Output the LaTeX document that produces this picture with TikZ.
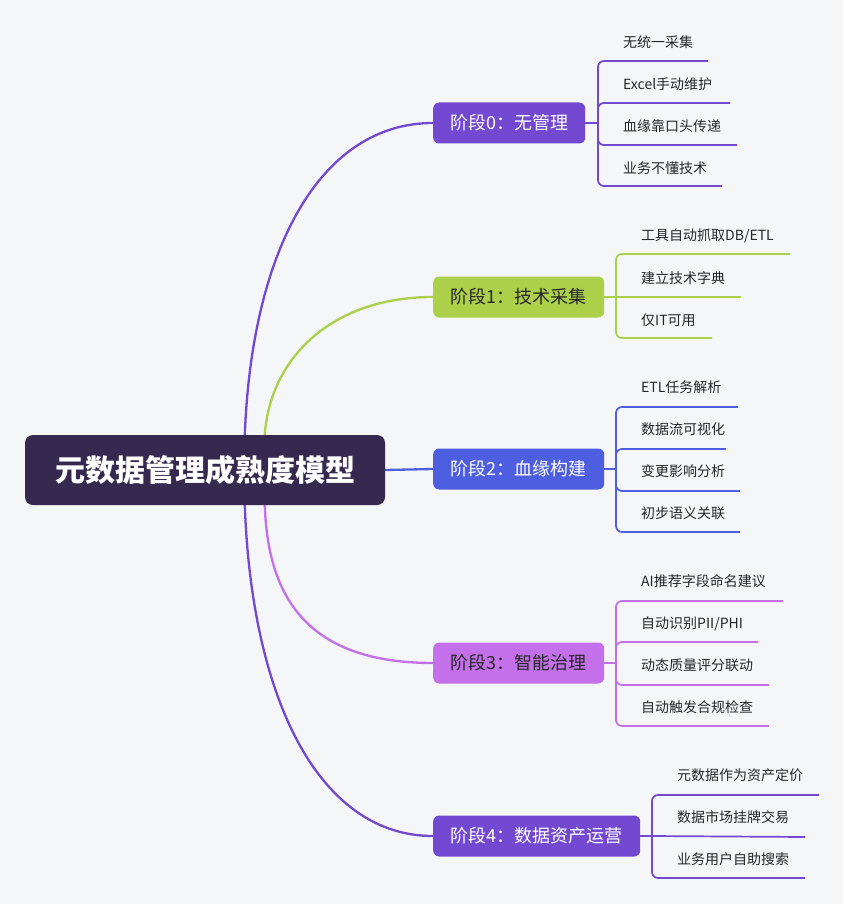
\documentclass[tikz,border=0pt]{standalone}
\usepackage{fontspec}
\setmainfont{Noto Sans CJK SC}
\definecolor{bgc}{HTML}{F5F6F8}
\definecolor{rootc}{HTML}{35294F}
\definecolor{cA}{HTML}{7349D1}
\definecolor{cB}{HTML}{ACD04A}
\definecolor{cC}{HTML}{4E5EE0}
\definecolor{cD}{HTML}{C470EA}
\definecolor{leafc}{HTML}{262626}
\begin{document}
\begin{tikzpicture}[x=1pt,y=-1pt,
  rootbox/.style={fill=rootc, rounded corners=8pt, text=white, font=\fontsize{30}{33}\selectfont\bfseries, minimum width=360pt, minimum height=70pt, inner sep=0pt},
  stagebox/.style={rounded corners=6pt, minimum height=41pt, font=\fontsize{18}{20}\selectfont, anchor=west, inner sep=0pt},
  leaf/.style={font=\fontsize{14}{16}\selectfont, text=leafc, anchor=west, inner sep=0pt},
  branch/.style={line width=2.3pt},
  bracket/.style={line width=1.7pt, rounded corners=6pt}]
\fill[bgc] (0,0) rectangle (843,904);
\useasboundingbox (0,0) rectangle (843,904);

\node[rootbox] (root) at (205,470) {元数据管理成熟度模型};

\node[stagebox, fill=cA, text=white, minimum width=152pt] (s0) at (433,123) {阶段0：无管理};
\node[stagebox, fill=cB, text=leafc, minimum width=171pt] (s1) at (433,297) {阶段1：技术采集};
\node[stagebox, fill=cC, text=white, minimum width=171pt] (s2) at (433,469) {阶段2：血缘构建};
\node[stagebox, fill=cD, text=leafc, minimum width=171pt] (s3) at (433,663) {阶段3：智能治理};
\node[stagebox, fill=cA, text=white, minimum width=207pt] (s4) at (433,836) {阶段4：数据资产运营};

% branches
\draw[branch, cA] ([xshift=220pt]root.north west) .. controls +(7,-185) and +(-113,0) .. (s0.west);
\draw[branch, cB] ([xshift=240pt]root.north west) .. controls +(5,-75) and +(-103,0) .. (s1.west);
\draw[branch, cC] (root.east) -- (s2.west);
\draw[branch, cD] ([xshift=240pt]root.south west) .. controls +(3,95) and +(-123,0) .. (s3.west);
\draw[branch, cA] ([xshift=220pt]root.south west) .. controls +(7,196) and +(-113,0) .. (s4.west);

% stage 0 leaves
\coordinate (b0) at (598,123);
\node[leaf] (c01) at (623,42) {无统一采集};
\node[leaf] (c02) at (623,84) {Excel手动维护};
\node[leaf] (c03) at (623,126) {血缘靠口头传递};
\node[leaf] (c04) at (623,168) {业务不懂技术};
\coordinate (e01) at (708,61);
\coordinate (e02) at (730,103);
\coordinate (e03) at (737,145);
\coordinate (e04) at (722,186);
\draw[bracket, cA] (s0.east) -- (b0);
\foreach \i in {1,...,4} \draw[bracket, cA] (b0) |- (e0\i);

% stage 1 leaves
\coordinate (b1) at (616,297);
\node[leaf] (c11) at (641,236) {工具自动抓取DB/ETL};
\node[leaf] (c12) at (641,278) {建立技术字典};
\node[leaf] (c13) at (641,320) {仅IT可用};
\coordinate (e11) at (790,254);
\coordinate (e12) at (741,297);
\coordinate (e13) at (712,338);
\draw[bracket, cB] (s1.east) -- (b1);
\foreach \i in {1,3} \draw[bracket, cB] (b1) |- (e1\i);
\draw[bracket, cB] (b1) -- (e12);

% stage 2 leaves
\coordinate (b2) at (616,469);
\node[leaf] (c21) at (641,387) {ETL任务解析};
\node[leaf] (c22) at (641,429) {数据流可视化};
\node[leaf] (c23) at (641,471) {变更影响分析};
\node[leaf] (c24) at (641,513) {初步语义关联};
\coordinate (e21) at (738,407);
\coordinate (e22) at (726,449);
\coordinate (e23) at (740,491);
\coordinate (e24) at (740,532);
\draw[bracket, cC] (s2.east) -- (b2);
\foreach \i in {1,...,4} \draw[bracket, cC] (b2) |- (e2\i);

% stage 3 leaves
\coordinate (b3) at (616,663);
\node[leaf] (c31) at (641,581) {AI推荐字段命名建议};
\node[leaf] (c32) at (641,624) {自动识别PII/PHI};
\node[leaf] (c33) at (641,665) {动态质量评分联动};
\node[leaf] (c34) at (641,707) {自动触发合规检查};
\coordinate (e31) at (783,601);
\coordinate (e32) at (758,642);
\coordinate (e33) at (769,685);
\coordinate (e34) at (769,726);
\draw[bracket, cD] (s3.east) -- (b3);
\foreach \i in {1,...,4} \draw[bracket, cD] (b3) |- (e3\i);

% stage 4 leaves
\coordinate (b4) at (652,836);
\node[leaf] (c41) at (677,775) {元数据作为资产定价};
\node[leaf] (c42) at (677,817) {数据市场挂牌交易};
\node[leaf] (c43) at (677,859) {业务用户自助搜索};
\coordinate (e41) at (819,795);
\coordinate (e42) at (805,837);
\coordinate (e43) at (805,878);
\draw[bracket, cA] (s4.east) -- (b4);
\foreach \i in {1,3} \draw[bracket, cA] (b4) |- (e4\i);
\draw[bracket, cA] (b4) -- (e42);
\end{tikzpicture}
\end{document}
